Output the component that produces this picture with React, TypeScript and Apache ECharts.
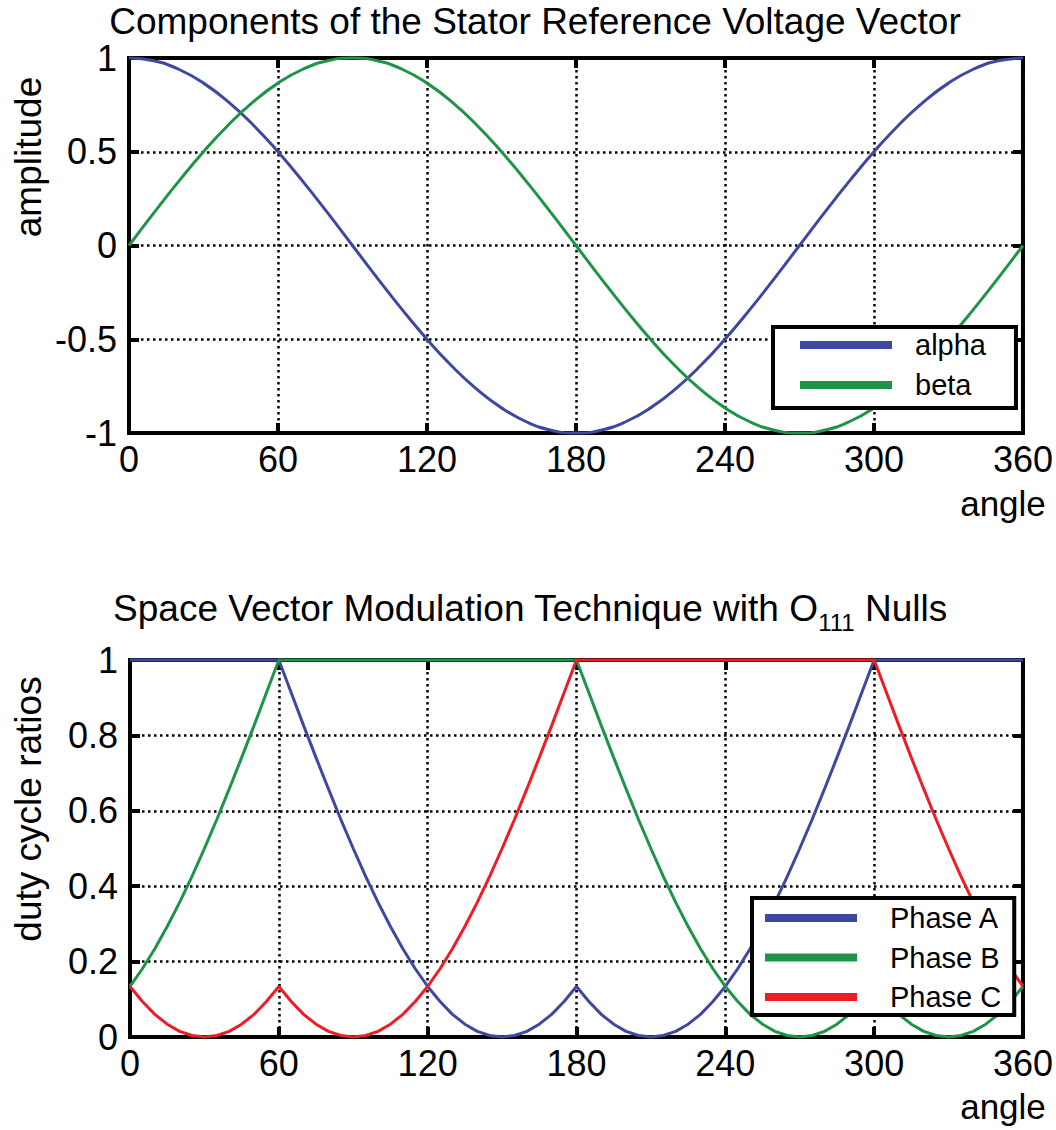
import React, { useEffect, useRef } from "react";
import * as echarts from "echarts";

// ---- Data ----
const topAngles = [0, 10, 20, 30, 40, 50, 60, 70, 80, 90, 100, 110, 120, 130, 140, 150, 160, 170, 180, 190, 200, 210, 220, 230, 240, 250, 260, 270, 280, 290, 300, 310, 320, 330, 340, 350, 360];
const alphaValues = [1, 0.985, 0.94, 0.866, 0.766, 0.643, 0.5, 0.342, 0.174, 0, -0.174, -0.342, -0.5, -0.643, -0.766, -0.866, -0.94, -0.985, -1, -0.985, -0.94, -0.866, -0.766, -0.643, -0.5, -0.342, -0.174, 0, 0.174, 0.342, 0.5, 0.643, 0.766, 0.866, 0.94, 0.985, 1];
const betaValues = [0, 0.174, 0.342, 0.5, 0.643, 0.766, 0.866, 0.94, 0.985, 1, 0.985, 0.94, 0.866, 0.766, 0.643, 0.5, 0.342, 0.174, 0, -0.174, -0.342, -0.5, -0.643, -0.766, -0.866, -0.94, -0.985, -1, -0.985, -0.94, -0.866, -0.766, -0.643, -0.5, -0.342, -0.174, 0];

const bottomAngles = [0, 5, 10, 15, 20, 25, 30, 35, 40, 45, 50, 55, 60, 65, 70, 75, 80, 85, 90, 95, 100, 105, 110, 115, 120, 125, 130, 135, 140, 145, 150, 155, 160, 165, 170, 175, 180, 185, 190, 195, 200, 205, 210, 215, 220, 225, 230, 235, 240, 245, 250, 255, 260, 265, 270, 275, 280, 285, 290, 295, 300, 305, 310, 315, 320, 325, 330, 335, 340, 345, 350, 355, 360];
const phaseA = [1, 1, 1, 1, 1, 1, 1, 1, 1, 1, 1, 1, 1,
  0.913, 0.826, 0.741, 0.658, 0.577, 0.5, 0.426, 0.357, 0.293, 0.234, 0.181, 0.134, 0.094, 0.06, 0.034, 0.015, 0.004, 0, 0.004, 0.015, 0.034, 0.06, 0.094, 0.134,
  0.094, 0.06, 0.034, 0.015, 0.004, 0, 0.004, 0.015, 0.034, 0.06, 0.094, 0.134, 0.181, 0.234, 0.293, 0.357, 0.426, 0.5, 0.577, 0.658, 0.741, 0.826, 0.913, 1,
  1, 1, 1, 1, 1, 1, 1, 1, 1, 1, 1, 1];
const phaseB = [0.134, 0.181, 0.234, 0.293, 0.357, 0.426, 0.5, 0.577, 0.658, 0.741, 0.826, 0.913, 1,
  1, 1, 1, 1, 1, 1, 1, 1, 1, 1, 1, 1, 1, 1, 1, 1, 1, 1, 1, 1, 1, 1, 1, 1,
  0.913, 0.826, 0.741, 0.658, 0.577, 0.5, 0.426, 0.357, 0.293, 0.234, 0.181, 0.134, 0.094, 0.06, 0.034, 0.015, 0.004, 0, 0.004, 0.015, 0.034, 0.06, 0.094, 0.134,
  0.094, 0.06, 0.034, 0.015, 0.004, 0, 0.004, 0.015, 0.034, 0.06, 0.094, 0.134];
const phaseC = [0.134, 0.094, 0.06, 0.034, 0.015, 0.004, 0, 0.004, 0.015, 0.034, 0.06, 0.094, 0.134,
  0.094, 0.06, 0.034, 0.015, 0.004, 0, 0.004, 0.015, 0.034, 0.06, 0.094, 0.134, 0.181, 0.234, 0.293, 0.357, 0.426, 0.5, 0.577, 0.658, 0.741, 0.826, 0.913, 1,
  1, 1, 1, 1, 1, 1, 1, 1, 1, 1, 1, 1, 1, 1, 1, 1, 1, 1, 1, 1, 1, 1, 1, 1,
  0.913, 0.826, 0.741, 0.658, 0.577, 0.5, 0.426, 0.357, 0.293, 0.234, 0.181, 0.134];

const topTitle = "Components of the Stator Reference Voltage Vector";
const bottomTitle = "Space Vector Modulation Technique with O{sub|111} Nulls";

const BLUE = "#3F48A0";
const GREEN = "#1E9449";
const RED = "#EE1C25";
const FONT = "'Liberation Sans', Arial, Helvetica, sans-serif";

const pairs = (xs: number[], ys: number[]) => xs.map((x, i) => [x, ys[i]]);

export default function App() {
  const ref = useRef<HTMLDivElement>(null);
  useEffect(() => {
    if (!ref.current) return;
    const chart = echarts.init(ref.current, undefined, { renderer: "svg" });

    const splitLine = { show: true, lineStyle: { color: "#000", width: 2.5, type: [2.5, 3.5] as any } };
    const tick = { show: true, inside: true, length: 10, lineStyle: { color: "#000", width: 4 } };
    const label = { color: "#000", fontSize: 36, fontFamily: FONT };
    const noLine = { show: false, onZero: false };

    const mkX = (gridIndex: number) => [
      {
        type: "value", gridIndex, min: 0, max: 360, interval: 60, position: "bottom",
        axisLine: noLine, axisTick: tick, splitLine,
        axisLabel: { ...label, margin: 8 },
      },
      {
        type: "value", gridIndex, min: 0, max: 360, interval: 60, position: "top",
        axisLine: noLine, axisTick: tick, splitLine: { show: false },
        axisLabel: { show: false },
      },
    ];
    const mkY = (gridIndex: number, min: number, max: number, interval: number) => [
      {
        type: "value", gridIndex, min, max, interval, position: "left",
        axisLine: noLine, axisTick: tick, splitLine,
        axisLabel: { ...label, margin: 12 },
      },
      {
        type: "value", gridIndex, min, max, interval, position: "right",
        axisLine: noLine, axisTick: tick, splitLine: { show: false },
        axisLabel: { show: false },
      },
    ];

    const line = (name: string, color: string, data: number[][], xi: number, yi: number, smooth: boolean) => ({
      type: "line", name, data, xAxisIndex: xi, yAxisIndex: yi, showSymbol: false, symbol: "none",
      smooth, clip: false, color, lineStyle: { color, width: 3 },
    });

    chart.setOption({
      animation: false,
      backgroundColor: "#fff",
      title: [
        {
          text: topTitle, left: 535, top: 3, textAlign: "center", padding: 0,
          textStyle: { color: "#000", fontSize: 37, fontWeight: "normal", fontFamily: FONT },
        },
        {
          text: bottomTitle, left: 530, top: 582, textAlign: "center", padding: 0,
          textStyle: {
            color: "#000", fontSize: 37, fontWeight: "normal", fontFamily: FONT, lineHeight: 52,
            rich: { sub: { fontSize: 24, lineHeight: 24, verticalAlign: "bottom", fontFamily: FONT, color: "#000" } },
          },
        },
      ],
      grid: [
        { left: 129, top: 58, width: 901, height: 375, show: true, borderColor: "#000", borderWidth: 4, backgroundColor: "transparent" },
        { left: 130, top: 660, width: 900, height: 377, show: true, borderColor: "#000", borderWidth: 4, backgroundColor: "transparent" },
      ],
      xAxis: [...mkX(0), ...mkX(1)],
      yAxis: [...mkY(0, -1, 1, 0.5), ...mkY(1, 0, 1, 0.2)],
      legend: [
        {
          data: ["alpha", "beta"], orient: "vertical", left: 773, top: 327,
          borderColor: "#000", borderWidth: 4, backgroundColor: "#fff", padding: [3, 30, 8, 27],
          icon: "rect", itemWidth: 92, itemHeight: 8, itemGap: 10,
          textStyle: { color: "#000", fontSize: 29, fontFamily: FONT, lineHeight: 30, padding: [0, 0, 0, 18] },
        },
        {
          data: ["Phase A", "Phase B", "Phase C"], orient: "vertical", left: 752, top: 898,
          borderColor: "#000", borderWidth: 4, backgroundColor: "#fff", padding: [5, 13, 3, 13],
          icon: "rect", itemWidth: 92, itemHeight: 8, itemGap: 9.5,
          textStyle: { color: "#000", fontSize: 29, fontFamily: FONT, lineHeight: 30, padding: [0, 0, 0, 28] },
        },
      ],
      graphic: [
        { type: "text", x: 28, y: 157, rotation: Math.PI / 2, style: { text: "amplitude", fontSize: 37, fontFamily: FONT, fill: "#000", align: "center", verticalAlign: "middle" } },
        { type: "text", x: 28, y: 809, rotation: Math.PI / 2, style: { text: "duty cycle ratios", fontSize: 37, fontFamily: FONT, fill: "#000", align: "center", verticalAlign: "middle" } },
        { type: "text", x: 1003, y: 503, style: { text: "angle", fontSize: 35, fontFamily: FONT, fill: "#000", align: "center", verticalAlign: "middle" } },
        { type: "text", x: 1003, y: 1106, style: { text: "angle", fontSize: 35, fontFamily: FONT, fill: "#000", align: "center", verticalAlign: "middle" } },
      ],
      series: [
        line("alpha", BLUE, pairs(topAngles, alphaValues), 0, 0, true),
        line("beta", GREEN, pairs(topAngles, betaValues), 0, 0, true),
        line("Phase A", BLUE, pairs(bottomAngles, phaseA), 2, 2, false),
        line("Phase B", GREEN, pairs(bottomAngles, phaseB), 2, 2, false),
        line("Phase C", RED, pairs(bottomAngles, phaseC), 2, 2, false),
      ],
    });
    return () => chart.dispose();
  }, []);
  return <div ref={ref} style={{ position: "absolute", left: 0, top: 0, width: 1056, height: 1130 }} />;
}
